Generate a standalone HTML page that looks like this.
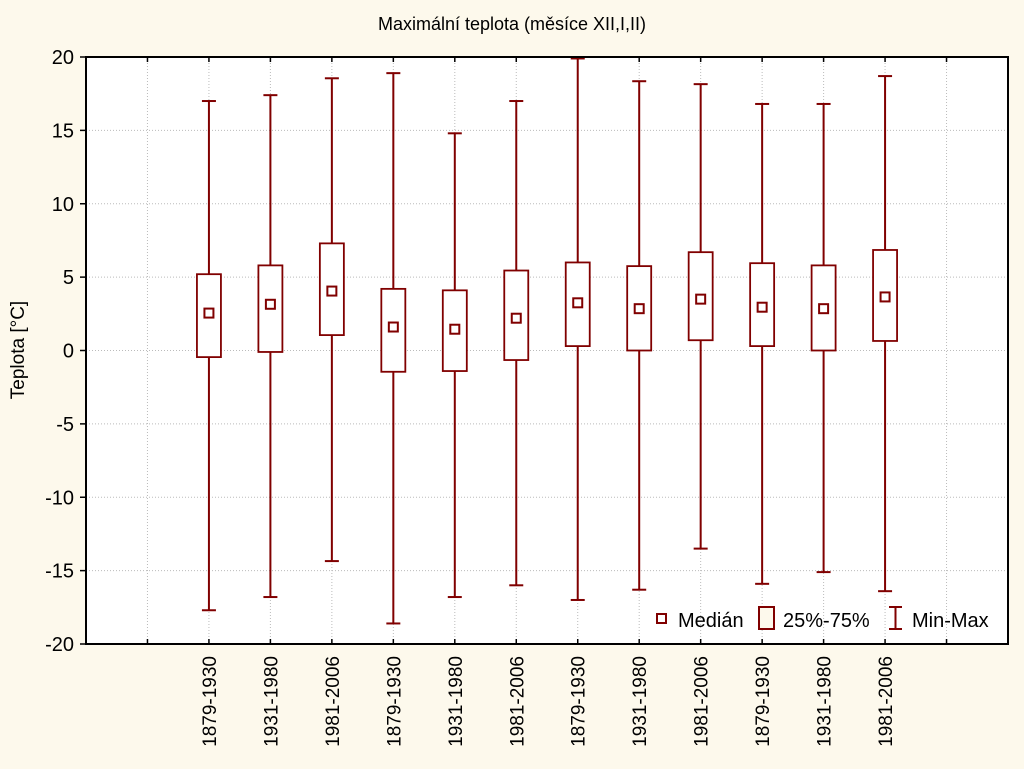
<!DOCTYPE html>
<html><head><meta charset="utf-8"><style>
body{margin:0;background:#fdf9ec;}
svg{display:block;font-family:"Liberation Sans",sans-serif;}
</style></head><body>
<svg id="c" width="1024" height="769">
<rect x="0" y="0" width="1024" height="769" fill="#fdf9ec"/>
<text x="512" y="30" font-size="18" text-anchor="middle">Maximální teplota (měsíce XII,I,II)</text>
<text transform="translate(24,350) rotate(-90)" font-size="19" text-anchor="middle">Teplota [°C]</text>
<g id="plot"></g>
</svg>
<script>
const categories=["1879-1930","1931-1980","1981-2006","1879-1930","1931-1980","1981-2006","1879-1930","1931-1980","1981-2006","1879-1930","1931-1980","1981-2006"];
const mins=[-17.7,-16.8,-14.35,-18.6,-16.8,-16.0,-17.0,-16.3,-13.5,-15.9,-15.1,-16.4];
const q1s=[-0.45,-0.1,1.05,-1.45,-1.4,-0.65,0.3,0,0.7,0.3,0,0.65];
const medians=[2.55,3.15,4.05,1.6,1.45,2.2,3.25,2.85,3.5,2.95,2.85,3.65];
const q3s=[5.2,5.8,7.3,4.2,4.1,5.45,6.0,5.75,6.7,5.95,5.8,6.85];
const maxs=[17.0,17.4,18.55,18.9,14.8,17.0,19.9,18.35,18.15,16.8,16.8,18.7];
const yTicks=[20,15,10,5,0,-5,-10,-15,-20];
const NS="http://www.w3.org/2000/svg";
const L=86,R=1008,T=57,B=644,col="#800000";
const slot=(R-L)/15;
const x=i=>L+slot*(i+2);
const y=v=>T+(20-v)*(B-T)/40;
const g=document.getElementById('plot');
function mk(t,a){const e=document.createElementNS(NS,t);for(const k in a)e.setAttribute(k,a[k]);g.appendChild(e);return e;}
let e=mk('rect',{x:L,y:T,width:R-L,height:B-T,fill:'#fff'});


yTicks.forEach(v=>{
 if(v<20&&v>-20){let l=mk('line',{x1:L,x2:R,y1:y(v),y2:y(v),stroke:'#bbb','stroke-dasharray':'1,2'});
 
 }
 let tk=mk('line',{x1:L-6,x2:L,y1:y(v),y2:y(v),stroke:'#000','stroke-width':1.5});
 
 
 let t=mk('text',{x:L-12,y:y(v)+7,'font-size':20,'text-anchor':'end'});t.textContent=v;
 
 
});
for(let k=1;k<=14;k++){
 const xx=L+slot*k;
 let l=mk('line',{x1:xx,x2:xx,y1:T,y2:B,stroke:'#bbb','stroke-dasharray':'1,2'});
 
 
 let a=mk('line',{x1:xx,x2:xx,y1:T,y2:T+5,stroke:'#000','stroke-width':1.5});
 
 
 let b=mk('line',{x1:xx,x2:xx,y1:B-5,y2:B,stroke:'#000','stroke-width':1.5});
 
 
}
categories.forEach((c,i)=>{
 const cx=x(i);
 let w=mk('line',{x1:cx,x2:cx,y1:y(maxs[i]),y2:y(mins[i]),stroke:col,'stroke-width':2});
 
 
 [maxs[i],mins[i]].forEach(v=>{let cap=mk('line',{x1:cx-7,x2:cx+7,y1:y(v),y2:y(v),stroke:col,'stroke-width':2});
  
  });
 let bx=mk('rect',{x:cx-12,y:y(q3s[i]),width:24,height:y(q1s[i])-y(q3s[i]),fill:'#fff',stroke:col,'stroke-width':1.8});
 
 
 let m=mk('rect',{x:cx-4.5,y:y(medians[i])-4.5,width:9,height:9,fill:'#fff',stroke:col,'stroke-width':2});
 
 
 let t=mk('text',{transform:`translate(${cx+7},${B+12}) rotate(-90)`,'font-size':19,'text-anchor':'end'});t.textContent=c;
 
 
});
e=mk('rect',{x:L,y:T,width:R-L,height:B-T,fill:'none',stroke:'#000','stroke-width':2});


const lg=document.createElementNS(NS,'g');g.appendChild(lg);


lg.innerHTML=`<rect x="657" y="614" width="9" height="9" fill="#fff" stroke="${col}" stroke-width="2"/>
<text x="678" y="627" font-size="20">Medián</text>
<rect x="759" y="607" width="15" height="22" fill="#fdf9ec" stroke="${col}" stroke-width="2"/>
<text x="783" y="627" font-size="20">25%-75%</text>
<path d="M889 607h13M895.5 607v22M889 629h13" stroke="${col}" stroke-width="2" fill="none"/>
<text x="912" y="627" font-size="20">Min-Max</text>`;
</script>
</body></html>
